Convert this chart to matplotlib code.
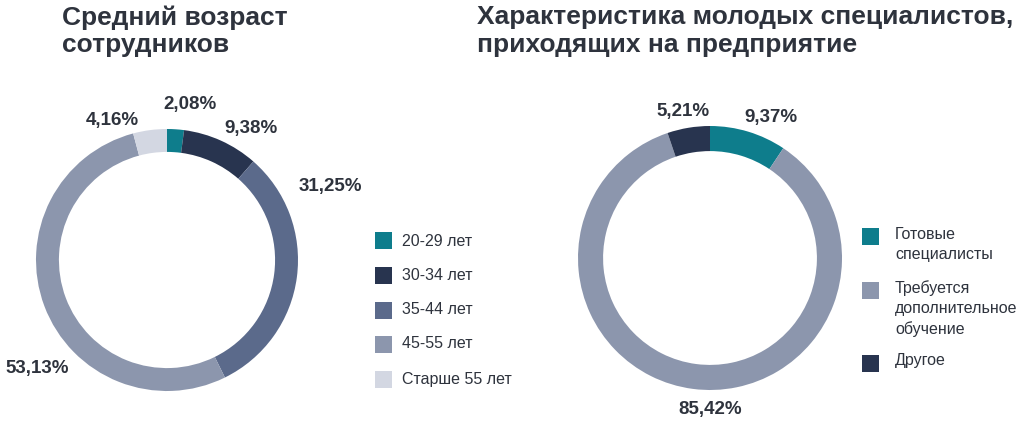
import matplotlib
matplotlib.use("Agg")
import matplotlib.pyplot as plt
from matplotlib.patches import Rectangle

plt.rcParams['font.family'] = ['Liberation Sans', 'DejaVu Sans']

# ---- data ----
age_labels = ["20-29 лет", "30-34 лет", "35-44 лет", "45-55 лет", "Старше 55 лет"]
age_values = [2.08, 9.38, 31.25, 53.13, 4.16]
age_texts = ["2,08%", "9,38%", "31,25%", "53,13%", "4,16%"]
age_colors = ["#0e7d8c", "#28344f", "#5b6a8b", "#8c96ad", "#d3d7e2"]

young_labels = ["Готовые\nспециалисты", "Требуется\nдополнительное\nобучение", "Другое"]
young_values = [9.37, 85.42, 5.21]
young_texts = ["9,37%", "85,42%", "5,21%"]
young_colors = ["#0e7d8c", "#8c96ad", "#28344f"]

title_left = "Средний возраст\nсотрудников"
title_right = "Характеристика молодых специалистов,\nприходящих на предприятие"

TXT = "#2e333d"
W, H = 1024, 423
fig = plt.figure(figsize=(W / 100, H / 100), dpi=100)
fig.patch.set_facecolor("white")


def fx(x):
    return x / W


def fy(y):
    return 1 - y / H


def donut(cx, cy, r, width, values, colors):
    ax = fig.add_axes([fx(cx - r), fy(cy + r), 2 * r / W, 2 * r / H])
    ax.pie(values, colors=colors, startangle=90, counterclock=False,
           radius=1.0, wedgeprops=dict(width=width, linewidth=0))
    ax.set_xlim(-1, 1)
    ax.set_ylim(-1, 1)
    ax.set_aspect('auto')
    ax.axis('off')
    return ax


donut(167, 260, 131, 0.175, age_values, age_colors)
donut(710, 258, 132, 0.19, young_values, young_colors)

# titles
fig.text(fx(62), fy(5), title_left, ha='left', va='top', fontsize=19,
         fontweight='bold', color=TXT, linespacing=1.2)
fig.text(fx(477), fy(5), title_right, ha='left', va='top', fontsize=19,
         fontweight='bold', color=TXT, linespacing=1.2)

# value labels (layout positions in pixels)
age_label_pos = [(190, 105), (251, 129), (330, 186), (37, 368), (112, 120)]
young_label_pos = [(771, 117), (710, 409), (683, 111)]
for t, (x, y) in zip(age_texts, age_label_pos):
    fig.text(fx(x), fy(y), t, ha='center', va='center', fontsize=13.5,
             fontweight='bold', color=TXT)
for t, (x, y) in zip(young_texts, young_label_pos):
    fig.text(fx(x), fy(y), t, ha='center', va='center', fontsize=13.5,
             fontweight='bold', color=TXT)

# legends
sq = 17
left_rows = [241, 275, 310, 344, 379]
for lab, col, y in zip(age_labels, age_colors, left_rows):
    fig.patches.append(Rectangle((fx(375), fy(y + sq / 2)), sq / W, sq / H,
                                 transform=fig.transFigure, color=col, lw=0))
    fig.text(fx(402), fy(y), lab, ha='left', va='center', fontsize=11.5,
             color=TXT)

right_rows = [237, 290, 363]
for lab, col, y in zip(young_labels, young_colors, right_rows):
    fig.patches.append(Rectangle((fx(862), fy(y + sq / 2)), sq / W, sq / H,
                                 transform=fig.transFigure, color=col, lw=0))
    fig.text(fx(895), fy(y - 10), lab, ha='left', va='top', fontsize=11.5,
             color=TXT, linespacing=1.4)

fig.savefig("out.png", dpi=100, facecolor="white")
